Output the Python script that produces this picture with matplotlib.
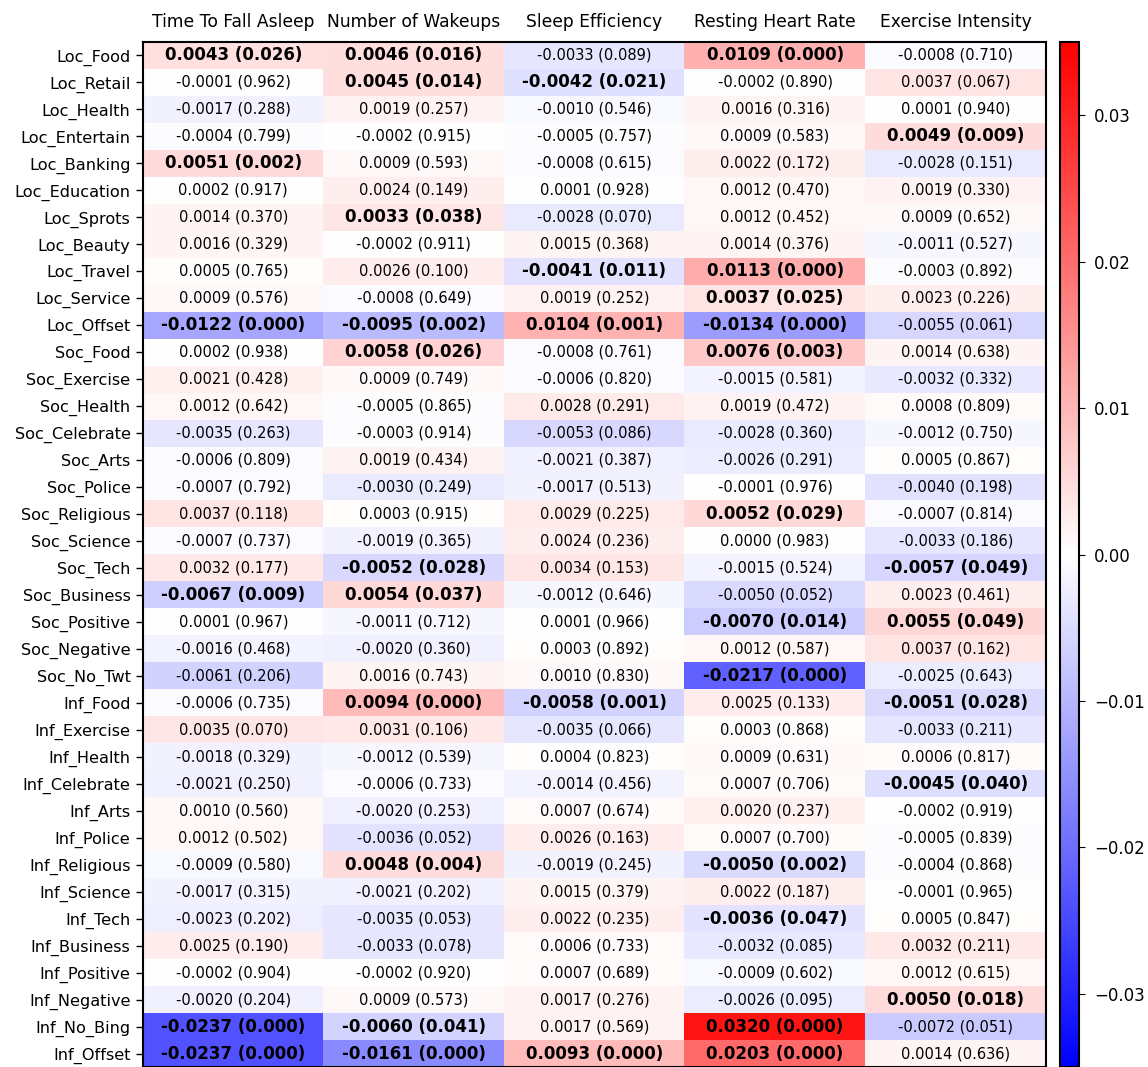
import numpy as np
import matplotlib
matplotlib.use("Agg")
import matplotlib.pyplot as plt

row_labels = ["Loc_Food", "Loc_Retail", "Loc_Health", "Loc_Entertain", "Loc_Banking",
              "Loc_Education", "Loc_Sprots", "Loc_Beauty", "Loc_Travel", "Loc_Service",
              "Loc_Offset", "Soc_Food", "Soc_Exercise", "Soc_Health", "Soc_Celebrate",
              "Soc_Arts", "Soc_Police", "Soc_Religious", "Soc_Science", "Soc_Tech",
              "Soc_Business", "Soc_Positive", "Soc_Negative", "Soc_No_Twt", "Inf_Food",
              "Inf_Exercise", "Inf_Health", "Inf_Celebrate", "Inf_Arts", "Inf_Police",
              "Inf_Religious", "Inf_Science", "Inf_Tech", "Inf_Business", "Inf_Positive",
              "Inf_Negative", "Inf_No_Bing", "Inf_Offset"]
col_labels = ["Time To Fall Asleep", "Number of Wakeups", "Sleep Efficiency",
              "Resting Heart Rate", "Exercise Intensity"]

coef_fall_asleep = [0.0043, -0.0001, -0.0017, -0.0004, 0.0051, 0.0002, 0.0014, 0.0016, 0.0005, 0.0009,
                    -0.0122, 0.0002, 0.0021, 0.0012, -0.0035, -0.0006, -0.0007, 0.0037, -0.0007, 0.0032,
                    -0.0067, 0.0001, -0.0016, -0.0061, -0.0006, 0.0035, -0.0018, -0.0021, 0.0010, 0.0012,
                    -0.0009, -0.0017, -0.0023, 0.0025, -0.0002, -0.0020, -0.0237, -0.0237]
p_fall_asleep = [0.026, 0.962, 0.288, 0.799, 0.002, 0.917, 0.370, 0.329, 0.765, 0.576,
                 0.000, 0.938, 0.428, 0.642, 0.263, 0.809, 0.792, 0.118, 0.737, 0.177,
                 0.009, 0.967, 0.468, 0.206, 0.735, 0.070, 0.329, 0.250, 0.560, 0.502,
                 0.580, 0.315, 0.202, 0.190, 0.904, 0.204, 0.000, 0.000]

coef_wakeups = [0.0046, 0.0045, 0.0019, -0.0002, 0.0009, 0.0024, 0.0033, -0.0002, 0.0026, -0.0008,
                -0.0095, 0.0058, 0.0009, -0.0005, -0.0003, 0.0019, -0.0030, 0.0003, -0.0019, -0.0052,
                0.0054, -0.0011, -0.0020, 0.0016, 0.0094, 0.0031, -0.0012, -0.0006, -0.0020, -0.0036,
                0.0048, -0.0021, -0.0035, -0.0033, -0.0002, 0.0009, -0.0060, -0.0161]
p_wakeups = [0.016, 0.014, 0.257, 0.915, 0.593, 0.149, 0.038, 0.911, 0.100, 0.649,
             0.002, 0.026, 0.749, 0.865, 0.914, 0.434, 0.249, 0.915, 0.365, 0.028,
             0.037, 0.712, 0.360, 0.743, 0.000, 0.106, 0.539, 0.733, 0.253, 0.052,
             0.004, 0.202, 0.053, 0.078, 0.920, 0.573, 0.041, 0.000]

coef_efficiency = [-0.0033, -0.0042, -0.0010, -0.0005, -0.0008, 0.0001, -0.0028, 0.0015, -0.0041, 0.0019,
                   0.0104, -0.0008, -0.0006, 0.0028, -0.0053, -0.0021, -0.0017, 0.0029, 0.0024, 0.0034,
                   -0.0012, 0.0001, 0.0003, 0.0010, -0.0058, -0.0035, 0.0004, -0.0014, 0.0007, 0.0026,
                   -0.0019, 0.0015, 0.0022, 0.0006, 0.0007, 0.0017, 0.0017, 0.0093]
p_efficiency = [0.089, 0.021, 0.546, 0.757, 0.615, 0.928, 0.070, 0.368, 0.011, 0.252,
                0.001, 0.761, 0.820, 0.291, 0.086, 0.387, 0.513, 0.225, 0.236, 0.153,
                0.646, 0.966, 0.892, 0.830, 0.001, 0.066, 0.823, 0.456, 0.674, 0.163,
                0.245, 0.379, 0.235, 0.733, 0.689, 0.276, 0.569, 0.000]

coef_heart_rate = [0.0109, -0.0002, 0.0016, 0.0009, 0.0022, 0.0012, 0.0012, 0.0014, 0.0113, 0.0037,
                   -0.0134, 0.0076, -0.0015, 0.0019, -0.0028, -0.0026, -0.0001, 0.0052, 0.0000, -0.0015,
                   -0.0050, -0.0070, 0.0012, -0.0217, 0.0025, 0.0003, 0.0009, 0.0007, 0.0020, 0.0007,
                   -0.0050, 0.0022, -0.0036, -0.0032, -0.0009, -0.0026, 0.0320, 0.0203]
p_heart_rate = [0.000, 0.890, 0.316, 0.583, 0.172, 0.470, 0.452, 0.376, 0.000, 0.025,
                0.000, 0.003, 0.581, 0.472, 0.360, 0.291, 0.976, 0.029, 0.983, 0.524,
                0.052, 0.014, 0.587, 0.000, 0.133, 0.868, 0.631, 0.706, 0.237, 0.700,
                0.002, 0.187, 0.047, 0.085, 0.602, 0.095, 0.000, 0.000]

coef_exercise = [-0.0008, 0.0037, 0.0001, 0.0049, -0.0028, 0.0019, 0.0009, -0.0011, -0.0003, 0.0023,
                 -0.0055, 0.0014, -0.0032, 0.0008, -0.0012, 0.0005, -0.0040, -0.0007, -0.0033, -0.0057,
                 0.0023, 0.0055, 0.0037, -0.0025, -0.0051, -0.0033, 0.0006, -0.0045, -0.0002, -0.0005,
                 -0.0004, -0.0001, 0.0005, 0.0032, 0.0012, 0.0050, -0.0072, 0.0014]
p_exercise = [0.710, 0.067, 0.940, 0.009, 0.151, 0.330, 0.652, 0.527, 0.892, 0.226,
              0.061, 0.638, 0.332, 0.809, 0.750, 0.867, 0.198, 0.814, 0.186, 0.049,
              0.461, 0.049, 0.162, 0.643, 0.028, 0.211, 0.817, 0.040, 0.919, 0.839,
              0.868, 0.965, 0.847, 0.211, 0.615, 0.018, 0.051, 0.636]

coef = np.array([coef_fall_asleep, coef_wakeups, coef_efficiency, coef_heart_rate, coef_exercise]).T
pval = np.array([p_fall_asleep, p_wakeups, p_efficiency, p_heart_rate, p_exercise]).T

plt.rcParams['font.family'] = ['DejaVu Sans']

fig = plt.figure(figsize=(11.48, 10.67), dpi=100)
ax = fig.add_axes([143 / 1148, 0.0, (1046 - 143) / 1148, 1 - 42 / 1067])
cax = fig.add_axes([1060 / 1148, 0.0, 19 / 1148, 1 - 42 / 1067])

vlim = 0.035
im = ax.imshow(coef, cmap='bwr', vmin=-vlim, vmax=vlim, aspect='auto',
               interpolation='nearest')

nr, nc = coef.shape
for i in range(nr):
    for j in range(nc):
        txt = f"{coef[i, j]:.4f} ({pval[i, j]:.3f})"
        if pval[i, j] < 0.05:
            ax.text(j, i, txt, ha='center', va='center', fontsize=12,
                    fontweight='bold', color='black')
        else:
            ax.text(j, i, txt, ha='center', va='center', fontsize=10.5, color='black')

ax.set_xticks(range(nc))
ax.set_xticklabels(col_labels, fontsize=12.3)
ax.xaxis.tick_top()
ax.tick_params(axis='x', length=0, pad=8)
ax.set_yticks(range(nr))
ax.set_yticklabels(row_labels, fontsize=11.6)
ax.tick_params(axis='y', length=5, width=1, pad=4)
for s in ax.spines.values():
    s.set_linewidth(1.5)
    s.set_color('black')

cb = fig.colorbar(im, cax=cax)
cb.set_ticks([-0.03, -0.02, -0.01, 0.0, 0.01, 0.02, 0.03])
cb.ax.tick_params(labelsize=12, length=4, pad=7)
cb.outline.set_linewidth(1.5)

fig.savefig("out.png", dpi=100)
